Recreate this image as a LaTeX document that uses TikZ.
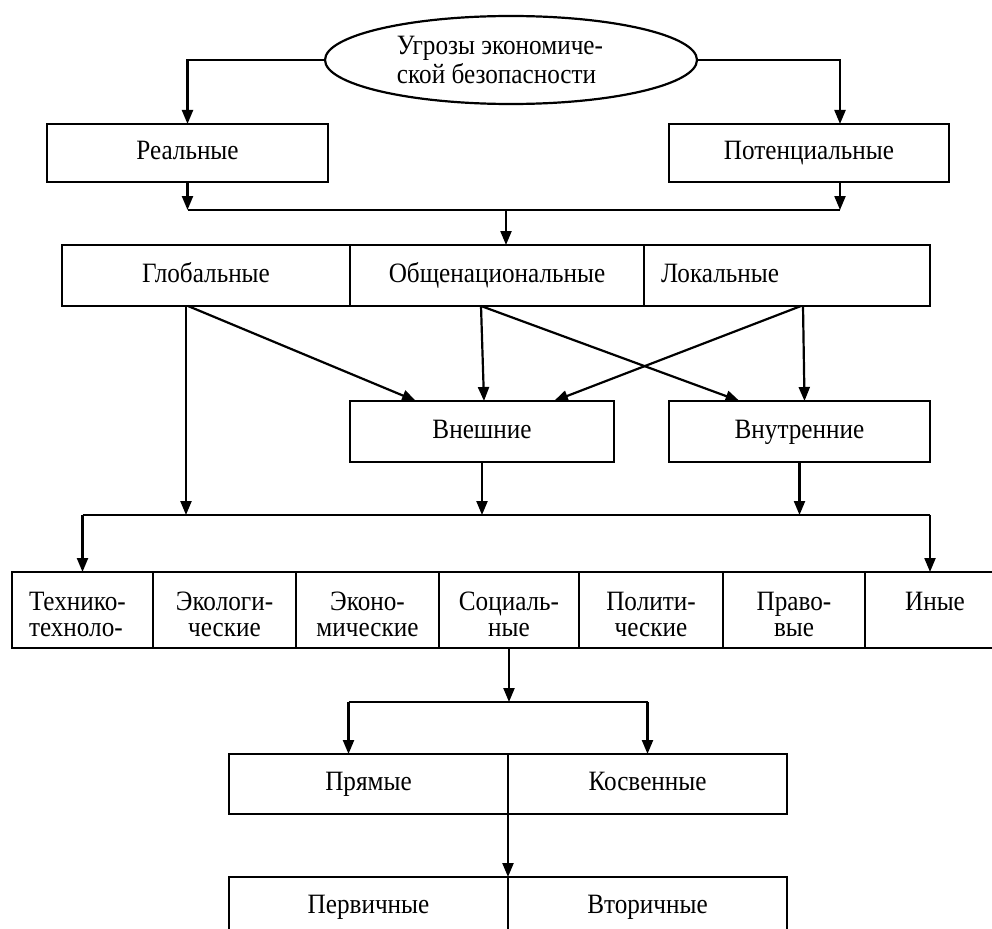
\documentclass[tikz,border=0pt]{standalone}
\usepackage{fontspec}
\setmainfont{Liberation Serif}[FakeStretch=0.9]
\usetikzlibrary{shapes.geometric,arrows.meta,calc}
\newcommand\tup{\rule{0pt}{27pt}}
\begin{document}
\begin{tikzpicture}[x=1pt,y=-1pt,
  every node/.style={font=\fontsize{28}{26}\selectfont},
  ln/.style={line width=2.2pt},
  arr/.style={ln, -{Triangle[length=14pt,width=11pt]}},
  box/.style={draw, ln, rectangle, anchor=north west, inner sep=0pt, outer sep=0pt, align=center},
  one/.style={text height=19pt, text depth=6pt}
]
\useasboundingbox (0,0) rectangle (992,928);
\clip (0,0) rectangle (992,928);

% top ellipse
\node[ellipse, draw, ln, minimum width=372pt, minimum height=88pt, inner sep=0pt, align=left,
      font=\fontsize{28}{29}\selectfont] (ell) at (511,60) {Угрозы экономиче-\hspace*{22pt}\\ской безопасности};

% level 1
\node[box, one, minimum width=281pt, minimum height=58pt] (real) at (47,124) {Реальные};
\node[box, one, minimum width=280pt, minimum height=58pt] (pot) at (669,124) {Потенциальные};

% level 2
\node[box, one, minimum width=288pt, minimum height=61pt] (glob) at (62,245) {Глобальные};
\node[box, one, minimum width=294pt, minimum height=61pt] (obsh) at (350,245) {Общенациональные};
\node[box, one, minimum width=286pt, minimum height=61pt, inner xsep=17pt, text width=252pt, align=left] (lok) at (644,245) {Локальные};

% level 3
\node[box, one, minimum width=264pt, minimum height=61pt] (vn) at (350,401) {Внешние};
\node[box, one, minimum width=261pt, minimum height=61pt] (vt) at (669,401) {Внутренние};

% level 4 row
\node[box, minimum width=141pt, minimum height=76pt, inner xsep=17pt, text width=107pt, align=left] (c1) at (12,572) {\tup Технико-\\техноло-};
\node[box, minimum width=143pt, minimum height=76pt] (c2) at (153,572) {\tup Экологи-\\ческие};
\node[box, minimum width=143pt, minimum height=76pt] (c3) at (296,572) {\tup Эконо-\\мические};
\node[box, minimum width=140pt, minimum height=76pt] (c4) at (439,572) {\tup Социаль-\\ные};
\node[box, minimum width=144pt, minimum height=76pt] (c5) at (579,572) {\tup Полити-\\ческие};
\node[box, minimum width=142pt, minimum height=76pt] (c6) at (723,572) {\tup Право-\\вые};
\node[box, minimum width=140pt, minimum height=76pt] (c7) at (865,572) {\tup Иные\\\phantom{ные}};

% level 5
\node[box, one, minimum width=279pt, minimum height=60pt] (pr) at (229,754) {Прямые};
\node[box, one, minimum width=279pt, minimum height=60pt] (kos) at (508,754) {Косвенные};

% level 6
\node[box, one, minimum width=279pt, minimum height=60pt] (perv) at (229,877) {Первичные};
\node[box, one, minimum width=279pt, minimum height=60pt] (vtor) at (508,877) {Вторичные};

% connectors: ellipse -> level 1
\coordinate (potin) at ([xshift=31pt]pot.north);
\coordinate (potout) at ([xshift=31pt]pot.south);
\draw[arr] (ell.west) -| (real.north);
\draw[arr] (ell.east) -| (potin);

% level 1 -> level 2
\coordinate (j1) at (506,210);
\draw[arr] (real.south) -- (real.south |- j1);
\draw[arr] (potout) -- (potout |- j1);
\draw[ln] (real.south |- j1) -- (potout |- j1);
\draw[arr] (j1) -- (j1 |- obsh.north);

% level 2 -> level 3
\coordinate (g1) at ([xshift=-20pt]glob.south);
\coordinate (g2) at ([xshift=-18pt]glob.south);
\coordinate (o1) at ([xshift=-16pt]obsh.south);
\coordinate (l1) at ([xshift=14pt]lok.south);
\coordinate (l2) at ([xshift=16pt]lok.south);
\draw[arr] (g2) -- ([xshift=-66pt]vn.north);
\draw[arr] (o1) -- ([xshift=2pt]vn.north);
\draw[arr] (o1) -- ([xshift=-60pt]vt.north);
\draw[arr] (l1) -- ([xshift=72pt]vn.north);
\draw[arr] (l2) -- ([xshift=5pt]vt.north);

% level 3 -> row
\coordinate (j2) at (508,515);
\coordinate (c7in) at ([xshift=-5pt]c7.north);
\draw[arr] (g1) -- (g1 |- j2);
\draw[arr] (vn.south) -- (vn.south |- j2);
\draw[arr] (vt.south) -- (vt.south |- j2);
\draw[ln] (c1.north |- j2) -- (c7in |- j2);
\draw[arr] (c1.north |- j2) -- (c1.north);
\draw[arr] (c7in |- j2) -- (c7in);

% row -> level 5
\coordinate (j3) at (508,702);
\coordinate (prin) at ([xshift=-20pt]pr.north);
\draw[arr] (c4.south) -- (c4.south |- j3);
\draw[ln] (prin |- j3) -- (kos.north |- j3);
\draw[arr] (prin |- j3) -- (prin);
\draw[arr] (kos.north |- j3) -- (kos.north);

% level 5 -> level 6
\draw[arr] (pr.south east) -- (perv.north east);
\end{tikzpicture}
\end{document}
